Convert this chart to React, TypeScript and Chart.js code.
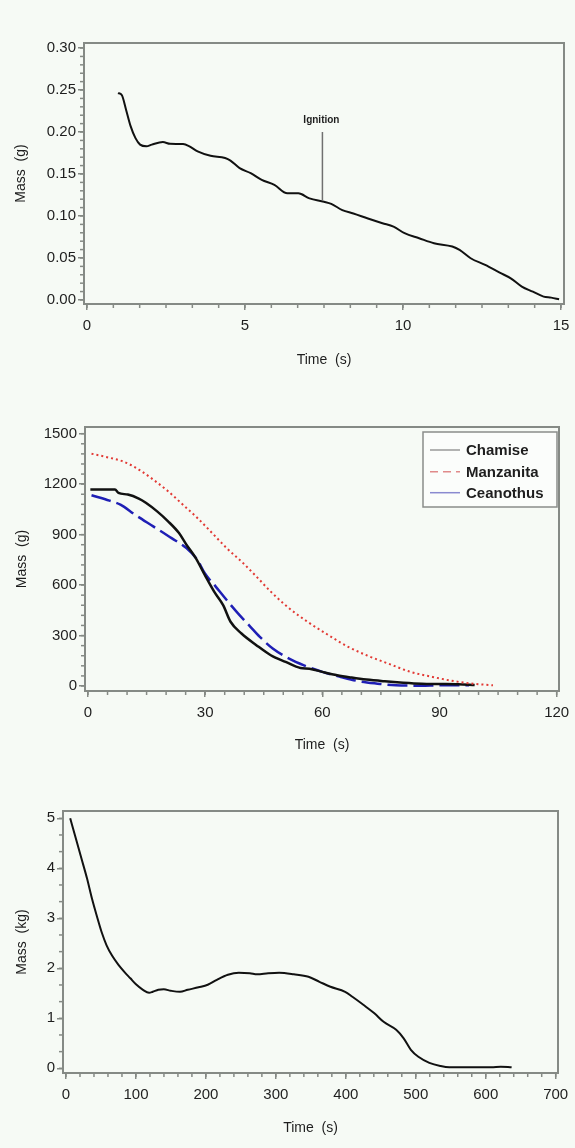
import React, { useEffect, useRef } from "react";
import { Chart, registerables } from "chart.js";

Chart.register(...registerables);

const FONT = "'Liberation Sans', Arial, Helvetica, sans-serif";
const BG = "#f6faf5";
const FRAME = "#858a85";
const INK = "#1e1e1e";

// ---------- Chart 1: single particle ----------
const particleTime = [0.98, 1.1, 1.24, 1.38, 1.53, 1.68, 1.88, 2.05, 2.4, 2.63, 3.04, 3.21, 3.5, 3.91, 4.37, 4.54, 4.83, 5.18, 5.53, 5.93, 6.34, 6.69, 7.04, 7.5, 7.73, 8.08, 8.43, 8.89, 9.35, 9.7, 10.05, 10.51, 10.98, 11.56, 11.79, 12.14, 12.6, 13.06, 13.41, 13.76, 14.11, 14.45, 14.69, 14.94];
const particleMass = [0.2464, 0.244, 0.226, 0.207, 0.193, 0.185, 0.183, 0.185, 0.188, 0.186, 0.1856, 0.1836, 0.177, 0.1717, 0.169, 0.166, 0.157, 0.151, 0.143, 0.137, 0.127, 0.127, 0.121, 0.117, 0.1145, 0.107, 0.103, 0.097, 0.0914, 0.0874, 0.0795, 0.0735, 0.0675, 0.0636, 0.0596, 0.0497, 0.0417, 0.0326, 0.0258, 0.0159, 0.0099, 0.004, 0.0028, 0.0008];
const particleXTicks = [0, 5, 10, 15];
const particleYTicks = [0, 0.05, 0.1, 0.15, 0.2, 0.25, 0.3];
const ignitionLabel = "Ignition";
const ignitionTime = 7.45;
const ignitionLineLow = 0.119;
const ignitionLineHigh = 0.2;
const ignitionLabelMass = 0.2145;

// ---------- Chart 2: shrubs ----------
const shrubNames = ["Chamise", "Manzanita", "Ceanothus"];
const chamiseTime = [0.6, 6.9, 7.8, 10.2, 13.0, 14.9, 17.7, 20.5, 23.3, 25.2, 27.6, 29.9, 32.3, 34.6, 36.5, 39.3, 43.1, 46.8, 50.6, 54.4, 56.7, 60.0, 63.8, 67.5, 71.3, 76.0, 80.7, 85.4, 90.1, 94.8, 99.0];
const chamiseMass = [1168, 1168, 1148, 1138, 1114, 1088, 1038, 979, 909, 840, 760, 660, 561, 481, 382, 312, 243, 183, 143, 107, 103, 84, 64, 50, 38, 28, 20, 14, 12, 10, 6];
const manzanitaTime = [0.9, 5.5, 9.2, 13.0, 16.7, 20.5, 24.3, 28.0, 31.8, 35.5, 39.3, 43.1, 46.8, 51.5, 56.2, 60.9, 66.6, 71.3, 76.9, 82.6, 88.2, 93.9, 98.6, 103.7];
const manzanitaMass = [1381, 1357, 1333, 1287, 1227, 1158, 1078, 999, 909, 820, 740, 651, 561, 462, 382, 312, 233, 183, 133, 84, 54, 28, 14, 4];
const ceanothusTime = [0.9, 5.5, 8.3, 12.0, 16.7, 21.4, 25.2, 28.0, 29.9, 32.7, 35.5, 38.4, 41.2, 44.0, 47.3, 51.5, 55.3, 60.0, 64.7, 69.4, 74.1, 78.8, 85.4, 90.1, 97.6];
const ceanothusMass = [1134, 1102, 1078, 1019, 949, 879, 820, 750, 670, 591, 511, 432, 362, 292, 223, 163, 123, 84, 54, 28, 14, 4, 2, 4, 4];
const shrubXTicks = [0, 30, 60, 90, 120];
const shrubYTicks = [0, 300, 600, 900, 1200, 1500];

// ---------- Chart 3: tree ----------
const treeTime = [6, 14, 22, 30, 37, 45, 51, 58, 66, 75, 84, 92, 100, 110, 118.8, 124, 132, 139.8, 150, 163, 174, 189.5, 202.6, 215.7, 231.4, 247, 262.8, 273.3, 289, 304.7, 325.7, 346.6, 362.3, 378, 399, 409.4, 425, 440.8, 454, 472, 482.7, 493, 503.7, 519.4, 535, 548, 561, 587, 608, 621.5, 637];
const treeMass = [5.0, 4.6, 4.2, 3.8, 3.4, 3.0, 2.72, 2.46, 2.25, 2.07, 1.92, 1.8, 1.68, 1.57, 1.51, 1.53, 1.57, 1.58, 1.55, 1.53, 1.57, 1.62, 1.67, 1.77, 1.87, 1.91, 1.9, 1.88, 1.9, 1.91, 1.88, 1.83, 1.73, 1.63, 1.53, 1.43, 1.27, 1.1, 0.93, 0.77, 0.6, 0.37, 0.23, 0.11, 0.047, 0.02, 0.02, 0.02, 0.02, 0.033, 0.02];
const treeXTicks = [0, 100, 200, 300, 400, 500, 600, 700];
const treeYTicks = [0, 1, 2, 3, 4, 5];

const zip = (xs: number[], ys: number[]) => xs.map((x, i) => ({ x, y: ys[i] }));

const framePlugin = {
  id: "frame",
  afterDraw(chart: any, _args: any, opts: any) {
    const { ctx, chartArea: a, scales } = chart;
    ctx.save();
    ctx.strokeStyle = FRAME;
    ctx.lineWidth = 1.5;
    const xs = scales.x;
    const ys = scales.y;
    if (opts.minorX) {
      const t = opts.xTicks;
      for (let v = t[0]; v <= t[t.length - 1] + 1e-9; v += opts.minorX) {
        const px = xs.getPixelForValue(v);
        ctx.beginPath();
        ctx.moveTo(px, a.bottom);
        ctx.lineTo(px, a.bottom + 4);
        ctx.stroke();
      }
    }
    if (opts.minorY) {
      const t = opts.yTicks;
      for (let v = t[0]; v <= t[t.length - 1] + 1e-9; v += opts.minorY) {
        const py = ys.getPixelForValue(v);
        ctx.beginPath();
        ctx.moveTo(a.left, py);
        ctx.lineTo(a.left - 4, py);
        ctx.stroke();
      }
    }
    ctx.lineWidth = 2;
    ctx.strokeRect(a.left, a.top, a.right - a.left, a.bottom - a.top);
    ctx.restore();
  },
};

const ignitionPlugin = {
  id: "ignition",
  afterDatasetsDraw(chart: any) {
    const { ctx, scales } = chart;
    const x = scales.x.getPixelForValue(ignitionTime);
    const y1 = scales.y.getPixelForValue(ignitionLineHigh);
    const y2 = scales.y.getPixelForValue(ignitionLineLow);
    const yt = scales.y.getPixelForValue(ignitionLabelMass);
    ctx.save();
    ctx.strokeStyle = "#707070";
    ctx.lineWidth = 1.5;
    ctx.beginPath();
    ctx.moveTo(x, y1);
    ctx.lineTo(x, y2);
    ctx.stroke();
    ctx.fillStyle = INK;
    ctx.font = `bold 10px ${FONT}`;
    ctx.textAlign = "center";
    ctx.textBaseline = "middle";
    ctx.fillText(ignitionLabel, x - 1, yt);
    ctx.restore();
  },
};

const shrubLegendPlugin = {
  id: "shrubLegend",
  afterDraw(chart: any) {
    const { ctx, chartArea: a } = chart;
    const w = 134;
    const h = 75;
    const left = a.right - 2 - w;
    const top = a.top + 5;
    ctx.save();
    ctx.fillStyle = "#fbfdfb";
    ctx.fillRect(left, top, w, h);
    ctx.strokeStyle = "#8a8d8a";
    ctx.lineWidth = 1.5;
    ctx.strokeRect(left, top, w, h);
    const sampleColors = ["#9a9a9a", "#e08a8a", "#8a8ad0"];
    const sampleDash = [[], [8, 5], []];
    const rows = [18, 39.7, 60.7];
    ctx.font = `bold 15px ${FONT}`;
    ctx.textAlign = "left";
    ctx.textBaseline = "middle";
    shrubNames.forEach((name, i) => {
      const y = top + rows[i];
      ctx.strokeStyle = sampleColors[i];
      ctx.lineWidth = 1.5;
      ctx.setLineDash(sampleDash[i]);
      ctx.beginPath();
      ctx.moveTo(left + 7, y);
      ctx.lineTo(left + 37, y);
      ctx.stroke();
      ctx.setLineDash([]);
      ctx.fillStyle = INK;
      ctx.fillText(name, left + 43, y + 1);
    });
    ctx.restore();
  },
};

type AxisSpec = {
  min: number;
  max: number;
  ticks: number[];
  size: number;
  title: string;
  titlePad: number;
  fmt: (v: number) => string;
};

function makeConfig(opts: {
  datasets: any[];
  x: AxisSpec;
  y: AxisSpec;
  padding: any;
  minorX: number;
  minorY: number;
  plugins: any[];
}) {
  const { x, y } = opts;
  return {
    type: "line",
    data: { datasets: opts.datasets },
    options: {
      responsive: false,
      animation: false,
      events: [],
      layout: { padding: opts.padding },
      elements: { point: { radius: 0 } },
      plugins: {
        legend: { display: false },
        tooltip: { enabled: false },
        frame: { minorX: opts.minorX, minorY: opts.minorY, xTicks: x.ticks, yTicks: y.ticks },
      },
      scales: {
        x: {
          type: "linear",
          min: x.min,
          max: x.max,
          afterBuildTicks: (s: any) => {
            s.ticks = x.ticks.map((v) => ({ value: v }));
          },
          afterFit: (s: any) => {
            s.height = x.size;
            s.paddingLeft = 0;
            s.paddingRight = 0;
          },
          border: { display: false },
          grid: { drawOnChartArea: false, drawTicks: true, tickLength: 6, color: FRAME, lineWidth: 1.5 },
          ticks: {
            autoSkip: false,
            maxRotation: 0,
            padding: 7,
            color: INK,
            font: { family: FONT, size: 15 },
            callback: (v: any) => x.fmt(Number(v)),
          },
          title: {
            display: true,
            text: x.title,
            color: INK,
            font: { family: FONT, size: 14 },
            padding: { top: 0, bottom: x.titlePad },
          },
        },
        y: {
          type: "linear",
          min: y.min,
          max: y.max,
          afterBuildTicks: (s: any) => {
            s.ticks = y.ticks.map((v) => ({ value: v }));
          },
          afterFit: (s: any) => {
            s.width = y.size;
            s.paddingTop = 0;
            s.paddingBottom = 0;
          },
          border: { display: false },
          grid: { drawOnChartArea: false, drawTicks: true, tickLength: 6, color: FRAME, lineWidth: 1.5 },
          ticks: {
            autoSkip: false,
            padding: 2,
            color: INK,
            font: { family: FONT, size: 15 },
            callback: (v: any) => y.fmt(Number(v)),
          },
          title: {
            display: true,
            text: y.title,
            color: INK,
            font: { family: FONT, size: 14 },
            padding: { top: y.titlePad, bottom: 0 },
          },
        },
      },
    },
    plugins: [framePlugin, ...opts.plugins],
  };
}

export default function App() {
  const r1 = useRef<HTMLCanvasElement>(null);
  const r2 = useRef<HTMLCanvasElement>(null);
  const r3 = useRef<HTMLCanvasElement>(null);

  useEffect(() => {
    const c1 = new Chart(
      r1.current as HTMLCanvasElement,
      makeConfig({
        datasets: [
          {
            data: zip(particleTime, particleMass),
            borderColor: "#111111",
            borderWidth: 2,
            cubicInterpolationMode: "monotone",
          },
        ],
        x: { min: -0.095, max: 15.095, ticks: particleXTicks, size: 79, title: "Time  (s)", titlePad: 14.6, fmt: (v) => String(v) },
        y: { min: -0.0048, max: 0.306, ticks: particleYTicks, size: 84, title: "Mass  (g)", titlePad: 13.1, fmt: (v) => v.toFixed(2) },
        padding: { top: 43, right: 11, bottom: 0, left: 0 },
        minorX: 5 / 6,
        minorY: 0.01,
        plugins: [ignitionPlugin],
      }) as any
    );

    const c2 = new Chart(
      r2.current as HTMLCanvasElement,
      makeConfig({
        datasets: [
          {
            label: shrubNames[1],
            data: zip(manzanitaTime, manzanitaMass),
            borderColor: "#e23a35",
            borderWidth: 2,
            borderDash: [2, 3],
            cubicInterpolationMode: "monotone",
          },
          {
            label: shrubNames[0],
            data: zip(chamiseTime, chamiseMass),
            borderColor: "#111111",
            borderWidth: 2.5,
            cubicInterpolationMode: "monotone",
          },
          {
            label: shrubNames[2],
            data: zip(ceanothusTime, ceanothusMass),
            borderColor: "#1f1fb5",
            borderWidth: 2.5,
            borderDash: [20, 6],
            cubicInterpolationMode: "monotone",
          },
        ],
        x: { min: -0.77, max: 120.6, ticks: shrubXTicks, size: 75, title: "Time  (s)", titlePad: 12.6, fmt: (v) => String(v) },
        y: { min: -29.7, max: 1539.8, ticks: shrubYTicks, size: 85, title: "Mass  (g)", titlePad: 13.6, fmt: (v) => String(v) },
        padding: { top: 44, right: 16, bottom: 0, left: 0 },
        minorX: 5,
        minorY: 60,
        plugins: [shrubLegendPlugin],
      }) as any
    );

    const c3 = new Chart(
      r3.current as HTMLCanvasElement,
      makeConfig({
        datasets: [
          {
            data: zip(treeTime, treeMass),
            borderColor: "#111111",
            borderWidth: 2,
            cubicInterpolationMode: "monotone",
          },
        ],
        x: { min: -4.29, max: 703.3, ticks: treeXTicks, size: 75, title: "Time  (s)", titlePad: 11.6, fmt: (v) => String(v) },
        y: { min: -0.094, max: 5.146, ticks: treeYTicks, size: 63, title: "Mass  (kg)", titlePad: 13.6, fmt: (v) => String(v) },
        padding: { top: 45, right: 17, bottom: 0, left: 0 },
        minorX: 20,
        minorY: 1 / 3,
        plugins: [],
      }) as any
    );

    return () => {
      c1.destroy();
      c2.destroy();
      c3.destroy();
    };
  }, []);

  const cv = (top: number, height: number): React.CSSProperties => ({
    position: "absolute",
    left: 0,
    top,
    width: 575,
    height,
    display: "block",
  });

  return (
    <div style={{ position: "absolute", left: 0, top: 0, width: 575, height: 1148, background: BG, overflow: "hidden" }}>
      <canvas ref={r1} width={575} height={383} style={cv(0, 383)} />
      <canvas ref={r2} width={575} height={383} style={cv(383, 383)} />
      <canvas ref={r3} width={575} height={382} style={cv(766, 382)} />
    </div>
  );
}
